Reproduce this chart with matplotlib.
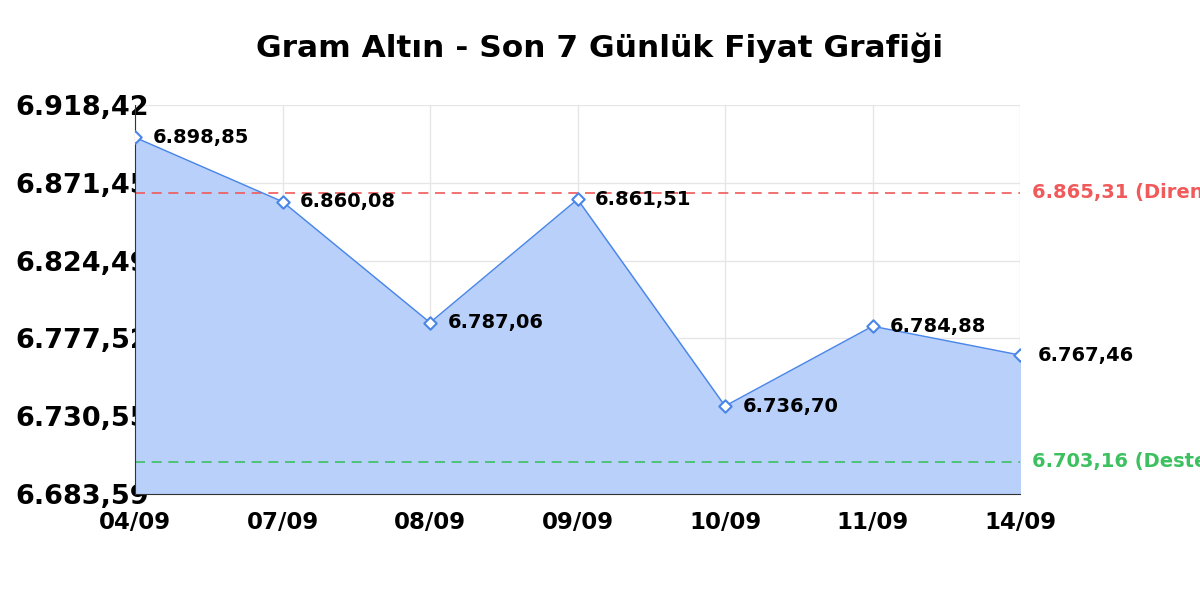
import matplotlib
matplotlib.use("Agg")
import matplotlib.pyplot as plt
import numpy as np

dates = ["04/09", "07/09", "08/09", "09/09", "10/09", "11/09", "14/09"]
prices = [6898.85, 6860.08, 6787.06, 6861.51, 6736.70, 6784.88, 6767.46]
resistance = 6865.31
support = 6703.16
ymin, ymax = 6683.59, 6918.42
ytick_labels = ["6.683,59", "6.730,55", "6.777,52", "6.824,49", "6.871,45", "6.918,42"]

def tr(v):
    s = f"{v:,.2f}"
    return s.replace(",", "X").replace(".", ",").replace("X", ".")

fig = plt.figure(figsize=(12, 6), dpi=100)
ax = fig.add_axes([135/1200, 1-494/600, 885/1200, 389/600])
x = np.arange(len(dates))
ax.fill_between(x, prices, ymin, color="#b8d0fa", zorder=1)
ax.plot(x, prices, color="#4a86e8", lw=1, zorder=3)
ax.scatter(x, prices, marker="D", s=40, facecolor="white", edgecolor="#4a86e8", linewidth=1.5, zorder=4)
for xi, p in zip(x, prices):
    ax.text(xi + 0.12, p, tr(p), fontsize=14, fontweight="bold", va="center", ha="left", zorder=5)
ax.axhline(resistance, color="#f05a5a", ls=(0, (6, 4)), lw=1.2, zorder=2)
ax.axhline(support, color="#3cc060", ls=(0, (6, 4)), lw=1.2, zorder=2)
ax.text(1.013, resistance, tr(resistance) + " (Direnç)", transform=ax.get_yaxis_transform(),
        color="#f05a5a", fontsize=14, fontweight="bold", va="center", clip_on=False)
ax.text(1.013, support, tr(support) + " (Destek)", transform=ax.get_yaxis_transform(),
        color="#3cc060", fontsize=14, fontweight="bold", va="center", clip_on=False)
ax.set_xlim(0, len(dates) - 1)
ax.set_ylim(ymin, ymax)
yt = np.linspace(ymin, ymax, 6)
ax.set_yticks(yt)
ax.set_yticklabels(ytick_labels, fontsize=19.5, fontweight="bold")
ax.set_xticks(x)
ax.set_xticklabels(dates, fontsize=16.5, fontweight="bold")
ax.grid(True, color="#e6e6e6", lw=1, zorder=0)
ax.set_axisbelow(True)
for s in ["top", "right"]:
    ax.spines[s].set_visible(False)
ax.spines["left"].set_color("#333333")
ax.spines["bottom"].set_color("#333333")
ax.tick_params(axis="y", length=0, pad=-10)
ax.tick_params(axis="x", length=0, pad=12)
fig.text(0.5, 1-48/600, "Gram Altın - Son 7 Günlük Fiyat Grafiği", ha="center", va="center",
         fontsize=22.5, fontweight="bold")
fig.savefig("out.png", dpi=100)
